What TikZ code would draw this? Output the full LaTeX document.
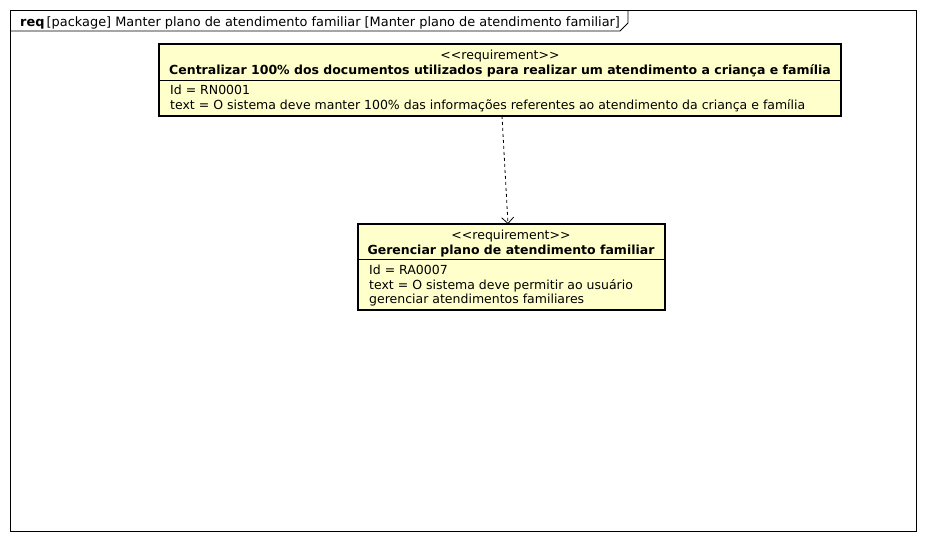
\documentclass[tikz,border=0pt]{standalone}
\usepackage{fontspec}
\setmainfont{DejaVu Sans}
\usetikzlibrary{arrows.meta}
\definecolor{reqfill}{HTML}{FFFFCC}
\newcommand{\stereo}[1]{{<}{<}#1{>}{>}}
\tikzset{
  px/.style={x=1pt,y=-1pt},
  reqbox/.style={draw=black,fill=reqfill,line width=1.5pt},
  divider/.style={draw=black,line width=0.8pt},
  txt/.style={inner sep=0pt,anchor=base west,font=\fontsize{12.5}{14}\selectfont},
  ctxt/.style={inner sep=0pt,anchor=base,font=\fontsize{12.5}{14}\selectfont},
  btxt/.style={inner sep=0pt,anchor=base,font=\fontsize{12.5}{14}\selectfont\bfseries},
  dep/.style={draw=black,dashed,line width=0.8pt,-{Straight Barb[length=6pt,width=12pt,line width=0.8pt]}}
}
\begin{document}
\begin{tikzpicture}[px]
\useasboundingbox (0,0) rectangle (927,541);
\fill[white] (0,0) rectangle (927,541);
% frame
\draw[line width=0.8pt] (10,10) rectangle (916,531);
\draw[line width=0.8pt] (10,31) -- (620,31) -- (628,23) -- (628,10);
\node[txt,font=\fontsize{12.9}{14}\selectfont] (title) at (20,26) {\textbf{req}\,[package] Manter plano de atendimento familiar [Manter plano de atendimento familiar]};
% box 1
\draw[reqbox] (159,44) rectangle (841,116);
\coordinate (b1bot) at (502,116);
\draw[divider] (159,80) -- (841,80);
\node[ctxt] (s1) at (500,59) {\stereo{requirement}};
\node[btxt] (t1) at (500,74) {Centralizar 100\% dos documentos utilizados para realizar um atendimento a criança e família};
\node[txt] (i1) at (170,94) {Id = RN0001};
\node[txt] (x1) at (170,109) {text = O sistema deve manter 100\% das informações referentes ao atendimento da criança e família};
% box 2
\draw[reqbox] (358,224) rectangle (665,310);
\coordinate (b2top) at (508,224);
\draw[divider] (358,259) -- (665,259);
\node[ctxt] (s2) at (511,239) {\stereo{requirement}};
\node[btxt] (t2) at (511,254) {Gerenciar plano de atendimento familiar};
\node[txt] (i2) at (369,274) {Id = RA0007};
\node[txt] (x2) at (369,289) {text = O sistema deve permitir ao usuário};
\node[txt] (y2) at (369,303) {gerenciar atendimentos familiares};
% dependency
\draw[dep] (b1bot) -- (b2top);
\end{tikzpicture}
\end{document}
